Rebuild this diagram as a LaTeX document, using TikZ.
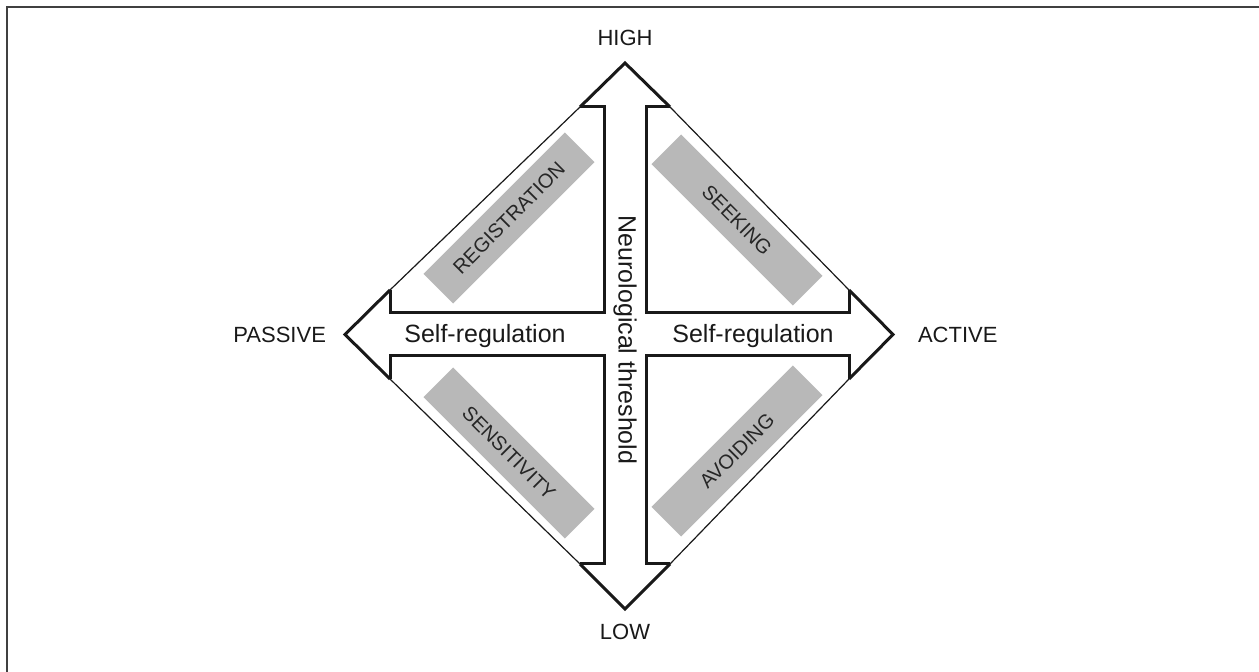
\documentclass[tikz,border=0pt]{standalone}
\usepackage{fontspec}
\setmainfont{Liberation Sans}
\usetikzlibrary{positioning, calc}
\tikzset{
  % Frame and outlines
  frameline/.style={line width=1pt, draw=black!75},
  arrowoutline/.style={line width=1.5pt, draw=black!90, line join=miter},
  diamondedge/.style={line width=0.6pt, draw=black!90},
  % Labels
  polelabel/.style={font=\fontsize{11}{13}\selectfont, text=black!90},
  axislabel/.style={font=\fontsize{12.5}{15}\selectfont, text=black!90},
  % Grey quadrant boxes
  quadrantbox/.style={fill=black!28, text=black!85, minimum width=100pt, minimum height=21pt, inner sep=0pt, font=\fontsize{10}{12}\selectfont},
}
\begin{document}
\begin{tikzpicture}[x=0.5pt, y=-0.5pt]
  \useasboundingbox (0,0) rectangle (1259,672);

  % frame (only top and left edges show)
  \coordinate (framebl) at (7,672);
  \coordinate (frametl) at (7,7);
  \coordinate (frametr) at (1259,7);
  \draw[frameline] (framebl) -- (frametl) -- (frametr);

  % arrow tips and head corners
  \coordinate (htip) at (625,63);
  \coordinate (hl) at (580,107);
  \coordinate (hr) at (670,107);
  \coordinate (btip) at (625,609);
  \coordinate (bl) at (580,564);
  \coordinate (br) at (670,564);
  \coordinate (ltip) at (345,334.5);
  \coordinate (lu) at (390,290);
  \coordinate (ld) at (390,379);
  \coordinate (rtip) at (893,334.5);
  \coordinate (ru) at (849,290);
  \coordinate (rd) at (849,379);

  % inner corners of the cross
  \coordinate (tl) at (604,313);
  \coordinate (tr) at (646,313);
  \coordinate (dl) at (604,356);
  \coordinate (dr) at (646,356);

  % heads
  \draw[arrowoutline] (hl) -- (htip) -- (hr);
  \draw[arrowoutline] (bl) -- (btip) -- (br);
  \draw[arrowoutline] (lu) -- (ltip) -- (ld);
  \draw[arrowoutline] (ru) -- (rtip) -- (rd);

  % shafts
  \draw[arrowoutline] (hl) -- (hl -| tl) -- (tl) -- (tl -| lu) -- (lu);
  \draw[arrowoutline] (hr) -- (hr -| tr) -- (tr) -- (tr -| ru) -- (ru);
  \draw[arrowoutline] (bl) -- (bl -| dl) -- (dl) -- (dl -| ld) -- (ld);
  \draw[arrowoutline] (br) -- (br -| dr) -- (dr) -- (dr -| rd) -- (rd);

  % diamond sides
  \draw[diamondedge] (hl) -- (lu);
  \draw[diamondedge] (hr) -- (ru);
  \draw[diamondedge] (bl) -- (ld);
  \draw[diamondedge] (br) -- (rd);

  % quadrants
  \node[quadrantbox, rotate=45] (registration) at (509,218) {REGISTRATION};
  \node[quadrantbox, rotate=-45] (seeking) at (737,220) {SEEKING};
  \node[quadrantbox, rotate=-45] (sensitivity) at (509,453) {SENSITIVITY};
  \node[quadrantbox, rotate=45] (avoiding) at (737,451) {AVOIDING};

  % axes
  \node[axislabel] (selfregleft) at (485,336) {Self-regulation};
  \node[axislabel] (selfregright) at (753,336) {Self-regulation};
  \node[axislabel, rotate=-90] (threshold) at (625,340) {Neurological threshold};

  % poles
  \node[polelabel, above=5pt of htip] (high) {HIGH};
  \node[polelabel, below=4pt of btip] (low) {LOW};
  \node[polelabel, left=6pt of ltip] (passive) {PASSIVE};
  \node[polelabel, right=9pt of rtip] (active) {ACTIVE};
\end{tikzpicture}
\end{document}
